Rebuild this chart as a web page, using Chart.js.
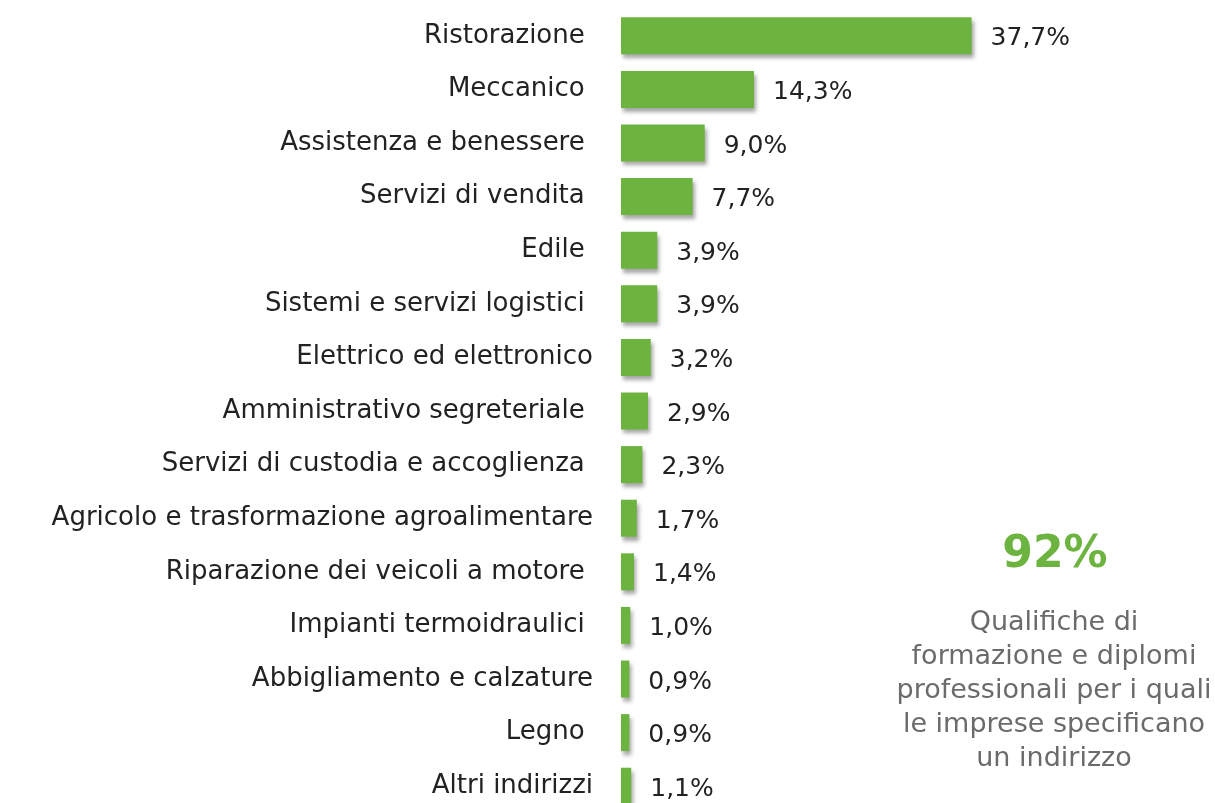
<!DOCTYPE html>
<html>
<head>
<meta charset="utf-8">
<script src="https://cdn.jsdelivr.net/npm/chart.js@4.4.0/dist/chart.umd.min.js"></script>
<style>
  html, body { margin: 0; padding: 0; background: #fff; overflow: hidden; }
  #wrap { width: 1215px; height: 803px; overflow: hidden; position: relative; }
  #wrap canvas { display: block; }
</style>
</head>
<body>
<div id="wrap"><canvas id="mycanvas" width="1215" height="813"></canvas></div>
<script>
// categorie (alcune con spazio finale come nell'originale)
var indirizzi = [
  'Ristorazione ', 'Meccanico ', 'Assistenza e benessere ', 'Servizi di vendita ',
  'Edile ', 'Sistemi e servizi logistici ', 'Elettrico ed elettronico',
  'Amministrativo segreteriale ', 'Servizi di custodia e accoglienza ',
  'Agricolo e trasformazione agroalimentare', 'Riparazione dei veicoli a motore ',
  'Impianti termoidraulici ', 'Abbigliamento e calzature', 'Legno ', 'Altri indirizzi'
];
var quote = [37.7, 14.3, 9.0, 7.7, 3.9, 3.9, 3.2, 2.9, 2.3, 1.7, 1.4, 1.0, 0.9, 0.9, 1.1];
var totale = '92%';
var nota = ['Qualifiche di', 'formazione e diplomi', 'professionali per i quali', 'le imprese specificano', 'un indirizzo'];

var FONT = '"DejaVu Sans", sans-serif';

// ombra leggera sotto le barre
var shadowPlugin = {
  id: 'shadow',
  beforeDatasetsDraw: function(chart) {
    var ctx = chart.ctx;
    ctx.save();
    ctx.shadowColor = 'rgba(0,0,0,0.35)';
    ctx.shadowBlur = 4;
    ctx.shadowOffsetX = 2;
    ctx.shadowOffsetY = 4;
  },
  afterDatasetsDraw: function(chart) {
    chart.ctx.restore();
  }
};

// etichette valori e testo a destra
var labelPlugin = {
  id: 'labels',
  afterDraw: function(chart) {
    var ctx = chart.ctx;
    var meta = chart.getDatasetMeta(0);
    ctx.save();
    ctx.font = '25px ' + FONT;
    ctx.fillStyle = '#222';
    ctx.textAlign = 'left';
    ctx.textBaseline = 'middle';
    meta.data.forEach(function(bar, i) {
      ctx.fillText(quote[i].toFixed(1).replace('.', ',') + '%', bar.x + 19, bar.y + 3);
    });

    ctx.textAlign = 'center';
    ctx.fillStyle = '#6db33f';
    ctx.font = 'bold 44px ' + FONT;
    ctx.fillText(totale, 1055, 556);

    ctx.fillStyle = '#6b6b6b';
    ctx.font = '27px ' + FONT;
    for (var j = 0; j < nota.length; j++) {
      ctx.fillText(nota[j], 1054, 623 + j * 34);
    }
    ctx.restore();
  }
};

var chartdata = {
  labels: indirizzi,
  datasets: [{
    data: quote,
    backgroundColor: '#6db33f',
    borderWidth: 0,
    barPercentage: 0.69,
    categoryPercentage: 1
  }]
};

var ctx = document.getElementById('mycanvas');
var barGraph = new Chart(ctx, {
  type: 'bar',
  data: chartdata,
  plugins: [shadowPlugin, labelPlugin],
  options: {
    indexAxis: 'y',
    responsive: false,
    animation: false,
    layout: { padding: { top: 9, right: 129, bottom: 0, left: 0 } },
    plugins: { legend: { display: false }, tooltip: { enabled: false } },
    scales: {
      x: { display: false, min: 0, max: 50 },
      y: {
        grid: { display: false },
        border: { display: false },
        ticks: { color: '#222', font: { family: FONT, size: 26 }, padding: 20, autoSkip: false },
        afterFit: function(scale) {
          scale.width = 621;
          scale.paddingTop = 0;
          scale.paddingBottom = 0;
        }
      }
    }
  }
});
</script>
</body>
</html>
